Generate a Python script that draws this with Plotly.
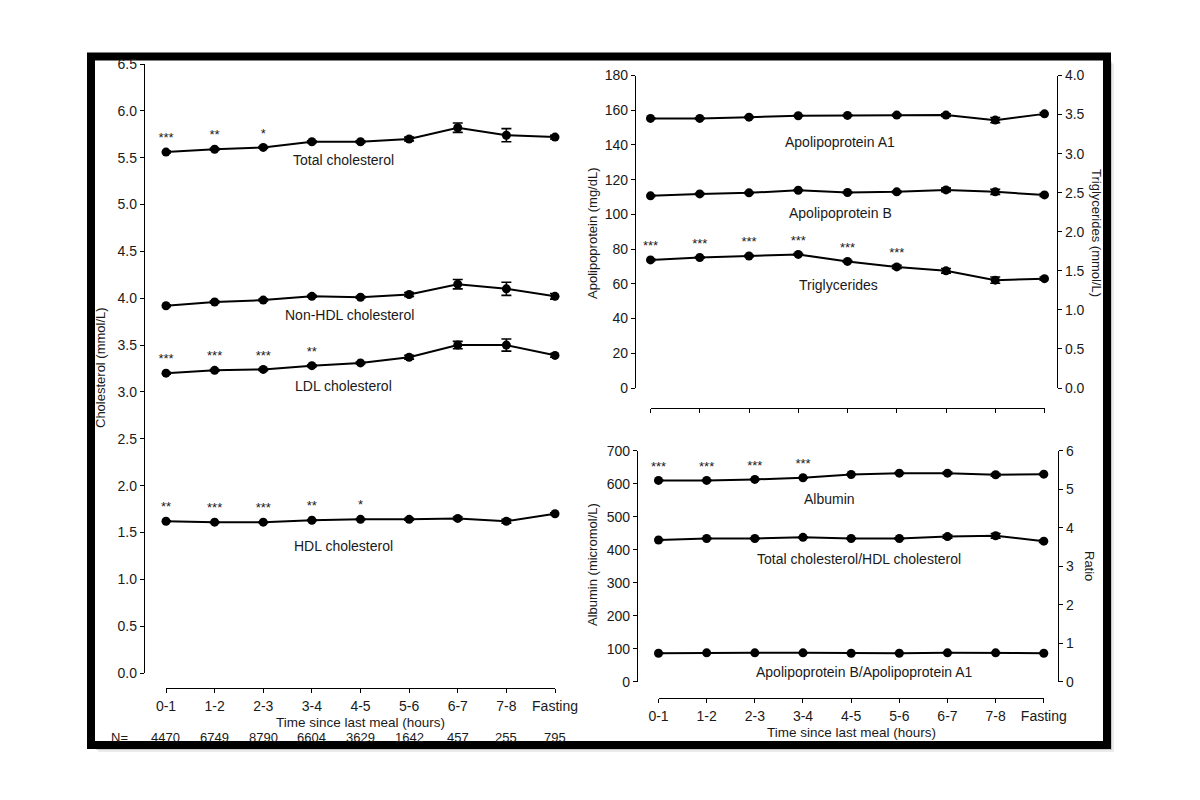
import plotly.graph_objects as go

W, H = 1200, 800
PAGE_OFFSET = 8  # the page body margin moves the figure 8px right and down

# ============================ data

categories = ["0-1", "1-2", "2-3", "3-4", "4-5", "5-6", "6-7", "7-8", "Fasting"]
n_counts = [4470, 6749, 8790, 6604, 3629, 1642, 457, 255, 795]

# cholesterol (mmol/L)
total_chol = [5.56, 5.59, 5.61, 5.67, 5.67, 5.70, 5.82, 5.74, 5.72]
total_chol_err = [0.01, 0.01, 0.01, 0.01, 0.01, 0.02, 0.05, 0.07, 0.02]
total_chol_sig = ["***", "**", "*", "", "", "", "", "", ""]

non_hdl = [3.92, 3.96, 3.98, 4.02, 4.01, 4.04, 4.15, 4.10, 4.02]
non_hdl_err = [0.01, 0.01, 0.01, 0.01, 0.01, 0.02, 0.05, 0.07, 0.03]

ldl = [3.20, 3.23, 3.24, 3.28, 3.31, 3.37, 3.50, 3.50, 3.39]
ldl_err = [0.01, 0.01, 0.01, 0.01, 0.01, 0.02, 0.04, 0.065, 0.02]
ldl_sig = ["***", "***", "***", "**", "", "", "", "", ""]

hdl = [1.62, 1.61, 1.61, 1.63, 1.64, 1.64, 1.65, 1.62, 1.70]
hdl_err = [0.005, 0.005, 0.005, 0.005, 0.005, 0.01, 0.015, 0.02, 0.01]
hdl_sig = ["**", "***", "***", "**", "*", "", "", "", ""]

# apolipoproteins (mg/dL) and triglycerides (mmol/L)
apoa1 = [155.3, 155.3, 156.0, 156.8, 157.0, 157.2, 157.2, 154.3, 157.9]
apoa1_err = [0.3, 0.3, 0.3, 0.3, 0.3, 0.5, 0.8, 1.5, 0.8]

apob = [110.7, 111.8, 112.4, 113.9, 112.6, 113.0, 114.1, 113.0, 111.2]
apob_err = [0.3, 0.3, 0.3, 0.3, 0.4, 0.5, 1.0, 1.5, 0.8]

trig = [1.64, 1.67, 1.69, 1.71, 1.62, 1.55, 1.50, 1.38, 1.40]
trig_err = [0.01, 0.01, 0.01, 0.01, 0.01, 0.02, 0.03, 0.04, 0.02]
trig_sig = ["***", "***", "***", "***", "***", "***", "", "", ""]

# albumin (micromol/L) and ratios
albumin = [610, 610, 613, 618, 628, 632, 632, 627, 629]
albumin_err = [1, 1, 1, 1, 1, 2, 3, 4, 2]
albumin_sig = ["***", "***", "***", "***", "", "", "", "", ""]

tc_hdl = [3.68, 3.72, 3.72, 3.75, 3.72, 3.72, 3.77, 3.79, 3.65]
tc_hdl_err = [0.01, 0.01, 0.01, 0.01, 0.01, 0.02, 0.04, 0.06, 0.03]

apob_apoa1 = [0.74, 0.75, 0.75, 0.75, 0.74, 0.74, 0.75, 0.75, 0.74]
apob_apoa1_err = [0.003, 0.003, 0.003, 0.003, 0.003, 0.005, 0.008, 0.01, 0.006]

# ============================ helpers

FONT = "Liberation Sans, Arial, sans-serif"
INK = "#1a1a1a"


def px(x):
    # screen pixel -> paper fraction
    return (x - PAGE_OFFSET) / W


def py(y):
    return 1 - (y - PAGE_OFFSET) / H


def series(y, err, xa, ya, sig=None):
    return go.Scatter(
        x=categories,
        y=y,
        xaxis=xa,
        yaxis=ya,
        mode="lines+markers+text" if sig else "lines+markers",
        text=sig,
        textposition="top center",
        textfont=dict(size=13, color=INK, family=FONT),
        line=dict(color="black", width=2),
        marker=dict(color="black", size=9),
        error_y=dict(type="data", array=err, thickness=1.6, width=5, color="black"),
        cliponaxis=False,
        showlegend=False,
        hoverinfo="x+y",
    )


fig = go.Figure()

# left panel
fig.add_trace(series(total_chol, total_chol_err, "x", "y", total_chol_sig))
fig.add_trace(series(non_hdl, non_hdl_err, "x", "y"))
fig.add_trace(series(ldl, ldl_err, "x", "y", ldl_sig))
fig.add_trace(series(hdl, hdl_err, "x", "y", hdl_sig))

# top right
fig.add_trace(series(apoa1, apoa1_err, "x2", "y2"))
fig.add_trace(series(apob, apob_err, "x2", "y2"))
fig.add_trace(series(trig, trig_err, "x2", "y3", trig_sig))

# bottom right
fig.add_trace(series(albumin, albumin_err, "x3", "y4", albumin_sig))
fig.add_trace(series(tc_hdl, tc_hdl_err, "x3", "y5"))
fig.add_trace(series(apob_apoa1, apob_apoa1_err, "x3", "y5"))

# ============================ axes

tick_font = dict(size=14, color=INK, family=FONT)
common_y = dict(
    showline=True, linecolor="black", linewidth=1.3,
    ticks="outside", ticklen=4, tickwidth=1.3, tickcolor="black",
    showgrid=False, zeroline=False, tickfont=tick_font,
    anchor="free", fixedrange=True, automargin=False,
)
common_x = dict(
    type="category", range=[0, 8],
    showline=True, linecolor="black", linewidth=1.3,
    ticks="outside", ticklen=4, tickwidth=1.3, tickcolor="black",
    showgrid=False, zeroline=False, tickfont=tick_font,
    anchor="free", fixedrange=True, automargin=False,
    ticklabelstandoff=1,
)

fig.update_layout(
    xaxis=dict(common_x, domain=[px(166), px(555)], position=py(688)),
    yaxis=dict(common_y, domain=[py(673), py(64)], range=[0, 6.5], dtick=0.5,
               tickformat=".1f", position=px(144)),

    xaxis2=dict(common_x, domain=[px(650.5), px(1044.5)], position=py(408),
                showticklabels=False),
    yaxis2=dict(common_y, domain=[py(388), py(75.5)], range=[0, 180], dtick=20,
                position=px(635)),
    yaxis3=dict(common_y, overlaying="y2", side="right", range=[0, 4], dtick=0.5,
                tickformat=".1f", position=px(1057)),

    xaxis3=dict(common_x, domain=[px(658.5), px(1043.8)], position=py(697.7)),
    yaxis4=dict(common_y, domain=[py(681.7), py(450.7)], range=[0, 700], dtick=100,
                position=px(637)),
    yaxis5=dict(common_y, overlaying="y4", side="right", range=[0, 6], dtick=1,
                position=px(1058)),
)

# ============================ text

annotations = []


def note(text, x, y, angle=0, xref="paper", size=14):
    annotations.append(dict(
        text=text, x=x, y=y, xref=xref, yref="paper", textangle=angle,
        showarrow=False, xanchor="center", yanchor="middle",
        font=dict(size=size, color=INK, family=FONT),
    ))


# series labels
note("Total cholesterol", px(343), py(160))
note("Non-HDL cholesterol", px(350), py(315))
note("LDL cholesterol", px(343), py(386))
note("HDL cholesterol", px(343), py(546))
note("Apolipoprotein A1", px(840), py(142))
note("Apolipoprotein B", px(840), py(213))
note("Triglycerides", px(838), py(285))
note("Albumin", px(829), py(499))
note("Total cholesterol/HDL cholesterol", px(859), py(559))
note("Apolipoprotein B/Apolipoprotein A1", px(864), py(672))

# axis titles
note("Cholesterol (mmol/L)", px(101), py(368), -90, size=13)
note("Apolipoprotein (mg/dL)", px(592), py(233), -90, size=13)
note("Triglycerides (mmol/L)", px(1097), py(233), 90, size=13)
note("Albumin (micromol/L)", px(592), py(565), -90, size=13)
note("Ratio", px(1090), py(566), 90, size=13)
note("Time since last meal (hours)", px(360), py(722.5), size=13.5)
note("Time since last meal (hours)", px(851), py(732.5), size=13.5)

# sample sizes
note("N=", px(119), py(737), size=13)
for cat, n in zip(categories, n_counts):
    note(str(n), cat, py(737), xref="x", size=13)

fig.update_layout(annotations=annotations)

# ============================ frame with drop shadow

shapes = []
for off, alpha in [(7, 0.08), (5, 0.15), (3, 0.25)]:
    shapes.append(dict(
        type="rect", xref="paper", yref="paper", layer="below",
        x0=px(91 + off), x1=px(1107 + off), y0=py(745 + off), y1=py(56.5 + off),
        line=dict(width=0), fillcolor=f"rgba(0,0,0,{alpha})",
    ))
shapes.append(dict(
    type="rect", xref="paper", yref="paper", layer="below",
    x0=px(91), x1=px(1107), y0=py(745), y1=py(56.5),
    line=dict(color="black", width=8), fillcolor="white",
))

fig.update_layout(
    shapes=shapes,
    width=W,
    height=H,
    margin=dict(l=0, r=0, t=0, b=0, pad=0, autoexpand=False),
    paper_bgcolor="white",
    plot_bgcolor="rgba(0,0,0,0)",
    font=dict(family=FONT, color=INK),
    showlegend=False,
)

fig.write_html("out.html")
